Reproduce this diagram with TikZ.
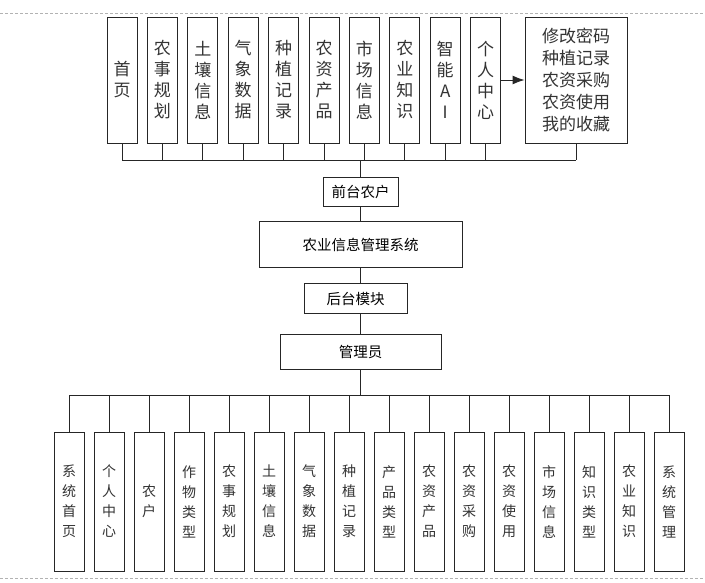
\documentclass[tikz,border=0pt]{standalone}
\usepackage{fontspec}
\newfontfamily\cjk{Noto Sans CJK SC}
\usetikzlibrary{positioning,arrows.meta}

\begin{document}
\begin{tikzpicture}[x=1pt,y=-1pt,
  line/.style={draw=black!85,line width=0.9pt},
  tallbox/.style={line,fill=white,minimum width=30pt,minimum height=126pt,inner sep=0pt,
    align=center,text=black!80,font=\cjk\fontsize{17}{21}\selectfont},
  lowbox/.style={tallbox,minimum height=139pt,font=\cjk\fontsize{14}{20}\selectfont},
  flatbox/.style={line,inner sep=0pt,font=\cjk\fontsize{14.5}{17}\selectfont}]
  \useasboundingbox (0,0) rectangle (705,582);
  \draw[gray!60,dash pattern=on 3pt off 2pt] (0,13) -- (705,13) (0,578) -- (705,578);

  % front pages
  \foreach \t [count=\i] in {{首\\页},{农\\事\\规\\划},{土\\壤\\信\\息},{气\\象\\数\\据},
      {种\\植\\记\\录},{农\\资\\产\\品},{市\\场\\信\\息},{农\\业\\知\\识},{智\\能\\A\\I},{个\\人\\中\\心}}
    \node[tallbox] (f\i) at ({122+40.4*(\i-1)},80) {\t};
  \node[tallbox,minimum width=102pt,font=\cjk\fontsize{17}{22}\selectfont] (mine) at (576,80)
    {修改密码\\种植记录\\农资采购\\农资使用\\我的收藏};
  \draw[line,-{Latex[length=12pt,width=9pt]}] (f10) -- (mine);

  \coordinate (tbus) at (360.5,160);
  \foreach \i in {1,...,10}
    \draw[line] (f\i.south) -- (f\i.south |- tbus);
  \draw[line] (mine.south) -- (mine.south |- tbus);
  \draw[line] (f1.south |- tbus) -- (mine.south |- tbus);

  % middle chain
  \node[flatbox,minimum width=75pt,minimum height=29pt] (front) at (360.5,191.5) {前台农户};
  \node[flatbox,minimum width=203pt,minimum height=46pt,below=15pt of front] (sys) {农业信息管理系统};
  \node[flatbox,minimum width=103pt,minimum height=30pt,below=15pt of sys,xshift=-5pt] (back) {后台模块};
  \node[flatbox,minimum width=161pt,minimum height=35pt,below=20pt of back,xshift=5pt] (admin) {管理员};
  \draw[line] (tbus) -- (front);
  \draw[line] (front) -- (sys);
  \draw[line] (sys.south) -- (sys.south |- back.north);
  \draw[line] (back.south -| admin.north) -- (admin.north);

  % back pages
  \coordinate (bbus) at (360.5,395);
  \draw[line] (admin) -- (bbus);
  \foreach \t [count=\i] in {{系\\统\\首\\页},{个\\人\\中\\心},{农\\户},{作\\物\\类\\型},
      {农\\事\\规\\划},{土\\壤\\信\\息},{气\\象\\数\\据},{种\\植\\记\\录},{产\\品\\类\\型},
      {农\\资\\产\\品},{农\\资\\采\\购},{农\\资\\使\\用},{市\\场\\信\\息},{知\\识\\类\\型},
      {农\\业\\知\\识},{系\\统\\管\\理}}
    {\node[lowbox] (b\i) at ({69+40*(\i-1)},501.5) {\t};
     \draw[line] (b\i.north) -- (b\i.north |- bbus);}
  \draw[line] (b1.north |- bbus) -- (b16.north |- bbus);
\end{tikzpicture}
\end{document}
